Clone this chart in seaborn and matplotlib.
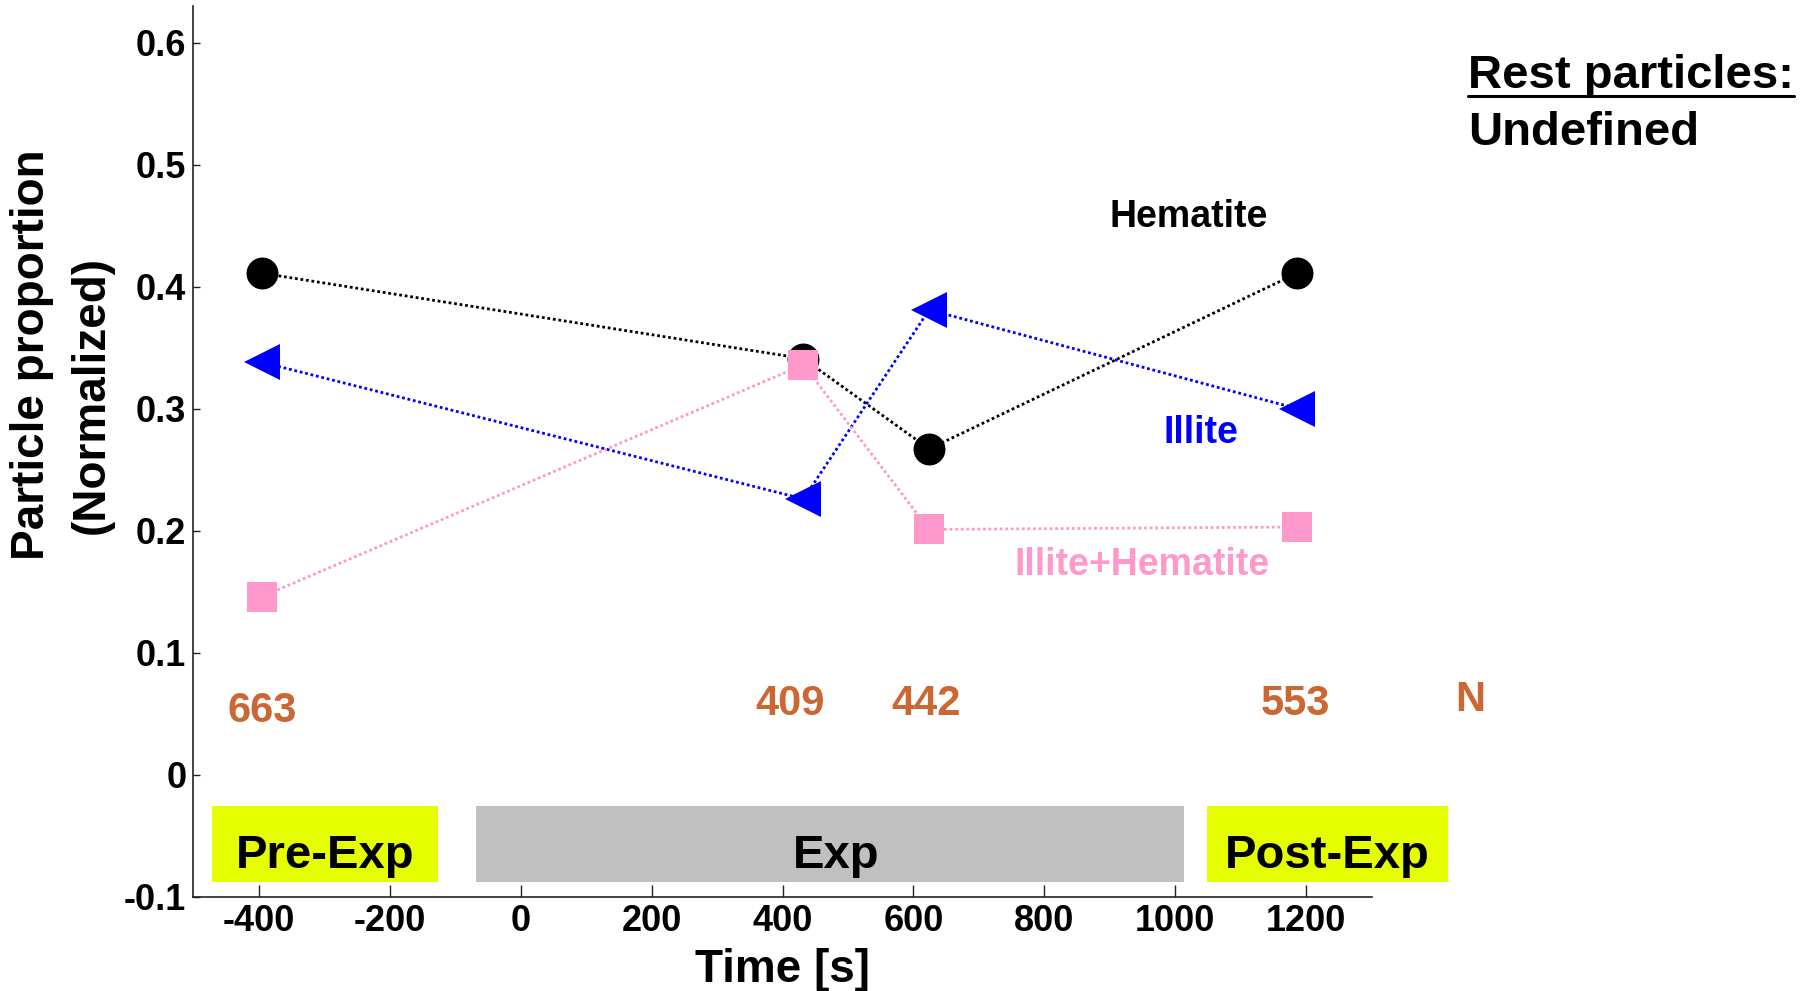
import matplotlib
matplotlib.use('Agg')
import matplotlib.pyplot as plt
import seaborn as sns
from matplotlib.patches import Rectangle
from matplotlib.lines import Line2D

# ---- data ----
times = [-395, 432, 624, 1186]
hematite = [0.411, 0.341, 0.267, 0.411]
illite = [0.338, 0.226, 0.381, 0.300]
illite_hematite = [0.146, 0.336, 0.201, 0.203]
n_counts = [663, 409, 442, 553]
phase_names = ['Pre-Exp', 'Exp', 'Post-Exp']
phase_start = [-471, -68, 1048]
phase_end = [-126, 1014, 1417]
x_ticks = [-400, -200, 0, 200, 400, 600, 800, 1000, 1200]
y_ticks = [-0.1, 0, 0.1, 0.2, 0.3, 0.4, 0.5, 0.6]

sns.set_theme(style='white')
plt.rcParams['font.family'] = ['Liberation Sans', 'DejaVu Sans']
plt.rcParams['font.weight'] = 'bold'
plt.rcParams['axes.unicode_minus'] = False

W, H = 1812, 991
fig = plt.figure(figsize=(W / 100, H / 100), dpi=100)
ax = fig.add_axes([193.3 / W, 94.3 / H, (1371.7 - 193.3) / W, (896.7 - 6) / H])

PINK = '#FF99CC'
ORANGE = '#CC6633'
series = [
    ('Hematite', hematite, 'o', 23, 'black'),
    ('Illite', illite, '<', 26, 'blue'),
    ('Illite+Hematite', illite_hematite, 's', 21, PINK),
]
for name, vals, mk, ms, col in series:
    sns.lineplot(x=times, y=vals, ax=ax, color=col, marker=mk, markersize=ms,
                 markeredgecolor=col, markeredgewidth=0, linestyle=(0, (1, 1)),
                 linewidth=2, errorbar=None, sort=False, legend=False)

ax.set_xlim(-500, 1300)
ax.set_ylim(-0.1, 0.63)
ax.set_xticks(x_ticks)
ax.set_xticklabels([f'{t:g}' for t in x_ticks])
ax.set_yticks(y_ticks)
ax.set_yticklabels([f'{round(t, 2):g}' for t in y_ticks])
for s in ['top', 'right']:
    ax.spines[s].set_visible(False)
for s in ['left', 'bottom']:
    ax.spines[s].set_color('#222222')
    ax.spines[s].set_linewidth(1.2)
ax.tick_params(axis='x', direction='in', length=9, width=1, pad=5, labelsize=26,
               colors='#222222', labelcolor='black', bottom=True)
ax.tick_params(axis='y', direction='in', length=5, width=1, pad=5, labelsize=26,
               colors='#222222', labelcolor='black', left=True)
for lab in ax.get_xticklabels() + ax.get_yticklabels():
    lab.set_fontweight('bold')

# phase bars
phase_colors = ['#E5FF00', '#C0C0C0', '#E5FF00']
label_shift = [0, 9, 0]
for name, s, e, col, dx in zip(phase_names, phase_start, phase_end, phase_colors, label_shift):
    ax.add_patch(Rectangle((s, -0.0879), e - s, 0.0619, facecolor=col,
                           edgecolor='none', clip_on=False, zorder=1))
    ax.text((s + e) / 2 + dx, -0.0767, name, ha='center', va='baseline', fontsize=34,
            fontweight='bold', color='black', clip_on=False, zorder=2)

# N counts
n_y = [0.052, 0.058, 0.058, 0.058]
n_dx = [0, -20, -4, -3]
for t, n, yy, dx in zip(times, n_counts, n_y, n_dx):
    ax.text(t + dx, yy, str(n), ha='center', va='center', fontsize=30,
            fontweight='bold', color=ORANGE)
ax.text(1451, 0.061, 'N', ha='center', va='center', fontsize=30,
        fontweight='bold', color=ORANGE, clip_on=False)

# series labels
ax.text(1021, 0.457, 'Hematite', ha='center', va='center', fontsize=27,
        fontweight='bold', color='black')
ax.text(1039, 0.280, 'Illite', ha='center', va='center', fontsize=27,
        fontweight='bold', color='blue')
ax.text(949, 0.172, 'Illite+Hematite', ha='center', va='center', fontsize=27,
        fontweight='bold', color=PINK)

# axis labels
ax.set_ylabel('Particle proportion', fontsize=33, fontweight='bold', color='black')
ax.yaxis.set_label_coords(-0.137, 0.609)
ax.yaxis.label.set_va('center')
ax.text(-0.0862, 0.563, '(Normalized)', transform=ax.transAxes, rotation=90,
        ha='center', va='center', fontsize=33, fontweight='bold', color='black')
ax.set_xlabel('Time [s]', fontsize=33, fontweight='bold', color='black')
ax.xaxis.set_label_coords(0.5, (9 - 94.3) / 890.7)
ax.xaxis.label.set_va('baseline')

# rest particles note
t1 = fig.text(1468 / W, 1 - 88 / H, 'Rest particles:', ha='left', va='baseline',
              fontsize=34, fontweight='bold', color='black')
fig.text(1468 / W, 1 - 145 / H, 'Undefined', ha='left', va='baseline',
         fontsize=34, fontweight='bold', color='black')
fig.canvas.draw()
bb = t1.get_window_extent(fig.canvas.get_renderer())
uy = 1 - 96 / H
fig.add_artist(Line2D([bb.x0 / W, bb.x1 / W], [uy, uy], transform=fig.transFigure,
                      color='black', linewidth=2.2))

fig.savefig('out.png', dpi=100)
